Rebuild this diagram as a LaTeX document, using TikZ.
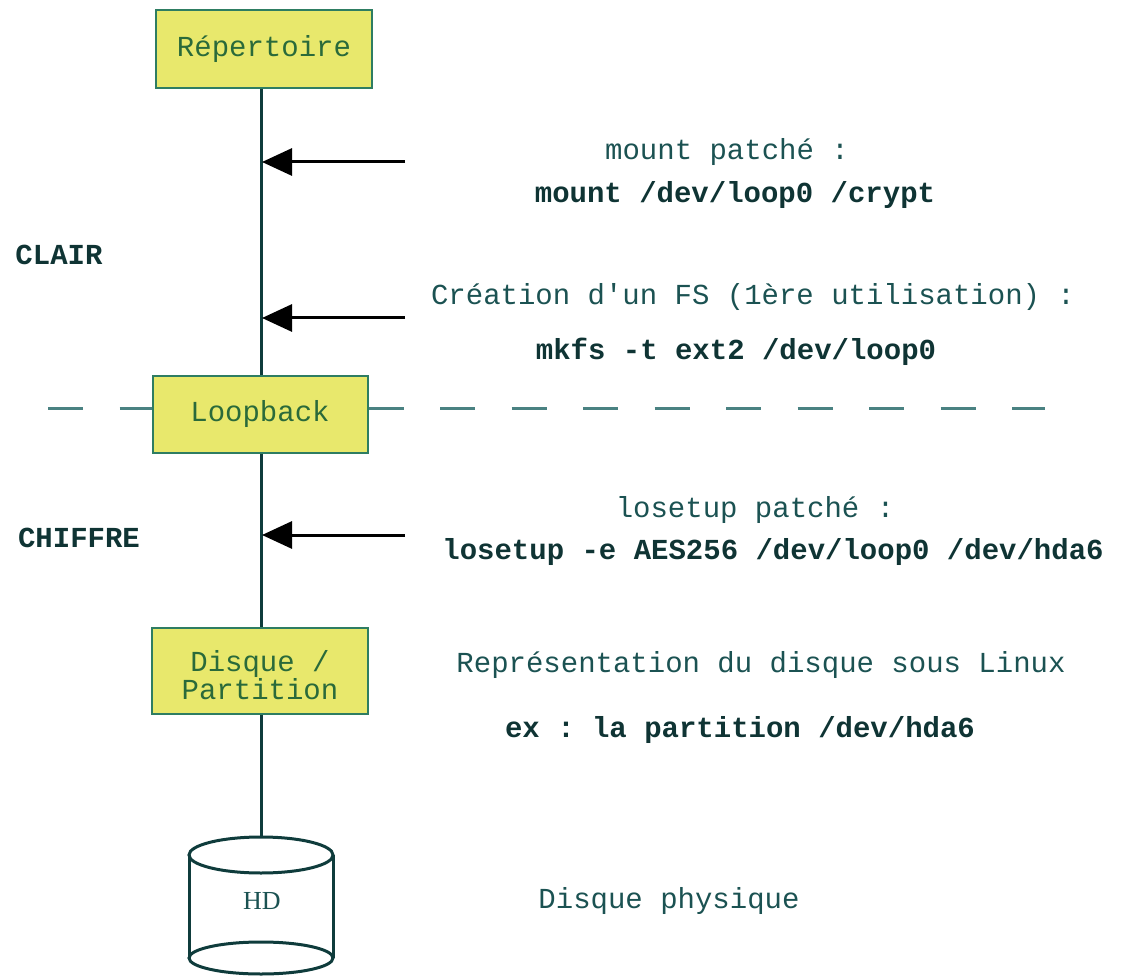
\documentclass[tikz,border=0pt]{standalone}
\usepackage{fontspec}
\setmonofont{Liberation Mono}
\newfontfamily\hdfont{Liberation Serif}
\usetikzlibrary{arrows.meta}
\definecolor{boxfill}{HTML}{E8E86C}
\definecolor{boxedge}{HTML}{2E7D62}
\definecolor{boxtext}{HTML}{2A6A3A}
\definecolor{wire}{HTML}{0F3C3C}
\definecolor{ink}{HTML}{1B5252}
\definecolor{darkink}{HTML}{0F3434}
\definecolor{sep}{HTML}{4A8282}
\tikzset{
  layerbox/.style={draw=boxedge, fill=boxfill, line width=2pt, text=boxtext,
    font=\ttfamily\fontsize{29}{28}\selectfont, align=center, inner sep=0pt},
  boxlabel/.style={text=boxtext, font=\ttfamily\fontsize{29}{28}\selectfont,
    align=center, inner sep=0pt},
  note/.style={text=ink, font=\ttfamily\fontsize{29}{34}\selectfont, inner sep=0pt},
  cmd/.style={text=darkink, font=\ttfamily\bfseries\fontsize{29}{34}\selectfont, inner sep=0pt},
  wireline/.style={draw=wire, line width=3pt},
  sepline/.style={draw=sep, line width=3pt, dash pattern=on 35pt off 36.5pt},
  feed/.style={draw=black, line width=3pt, -{Triangle[length=30pt,width=27pt]}},
}
\begin{document}
\begin{tikzpicture}[x=1pt,y=-1pt]
\useasboundingbox (0,0) rectangle (1122,976);

% layer boxes
\node[layerbox, minimum width=216pt, minimum height=78pt] (rep) at (264,49) {Répertoire};
\node[layerbox, minimum width=215pt, minimum height=77pt] (loop) at (260,414.5) {Loopback};
\node[layerbox, minimum width=216pt, minimum height=86pt] (part) at (260,671) {};
\node[boxlabel] (partlabel) at (260,675) {Disque /\\Partition};

% boundary between clear and encrypted layers
\coordinate (sepL) at (48,408);
\coordinate (sepR) at (1045,408);
\draw[sepline] (sepL) -- (loop.west |- sepL);
\draw[sepline] (loop.east |- sepR) -- (sepR);

% physical disk as a cylinder
\coordinate (hdtop) at (261,837);
\draw[wire, line width=3pt] (261,855) ellipse [x radius=72pt, y radius=18pt];
\draw[wire, line width=3pt] (189,855) -- (189,958) (333,855) -- (333,958);
\draw[wire, line width=3pt] (261,958) ellipse [x radius=72pt, y radius=16pt];
\node[text=ink, font=\hdfont\fontsize{26}{30}\selectfont, inner sep=0pt] (hd) at (262,901) {HD};

% vertical stack
\draw[wireline] (rep.south -| 261,0) -- (loop.north -| 261,0);
\draw[wireline] (loop.south -| 261,0) -- (part.north -| 261,0);
\draw[wireline] (part.south -| 261,0) -- (hdtop);

% commands feeding the stack
\coordinate (m1) at (405,162);
\coordinate (m1t) at (262,162);
\coordinate (m2) at (405,318);
\coordinate (m2t) at (262,318);
\coordinate (m3) at (405,535);
\coordinate (m3t) at (262,535);
\draw[feed] (m1) -- (m1t);
\draw[feed] (m2) -- (m2t);
\draw[feed] (m3) -- (m3t);

% zone labels
\node[cmd] (clair) at (59,255) {CLAIR};
\node[cmd] (chiffre) at (79,538) {CHIFFRE};

% notes
\node[note] (t1) at (727,152) {mount patché :};
\node[cmd]  (c1) at (735,195) {mount /dev/loop0 /crypt};
\node[note] (t2) at (753,297) {Création d'un FS (1ère utilisation) :};
\node[cmd]  (c2) at (736,352) {mkfs -t ext2 /dev/loop0};
\node[note] (t3) at (755,510) {losetup patché :};
\node[cmd]  (c3) at (773,552) {losetup -e AES256 /dev/loop0 /dev/hda6};
\node[note] (t4) at (761,665) {Représentation du disque sous Linux};
\node[cmd]  (c4) at (740,730) {ex : la partition /dev/hda6};
\node[note] (t5) at (669,901) {Disque physique};
\end{tikzpicture}
\end{document}
